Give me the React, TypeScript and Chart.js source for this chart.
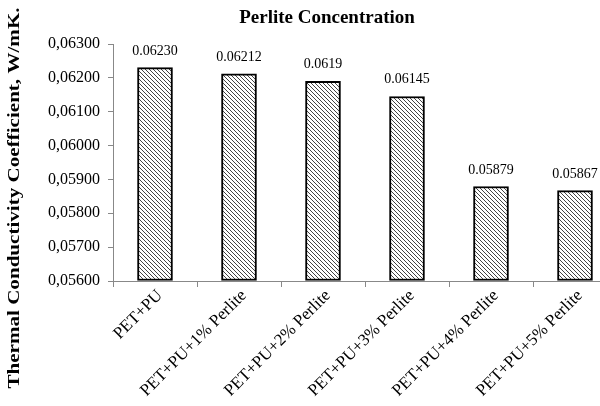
import React, { useEffect, useRef } from "react";
import { Chart, registerables } from "chart.js";

Chart.register(...registerables);

const categories = [
  "PET+PU",
  "PET+PU+1% Perlite",
  "PET+PU+2% Perlite",
  "PET+PU+3% Perlite",
  "PET+PU+4% Perlite",
  "PET+PU+5% Perlite",
];
const values = [0.0623, 0.06212, 0.0619, 0.06145, 0.05879, 0.05867];
const valueLabels = ["0.06230", "0.06212", "0.0619", "0.06145", "0.05879", "0.05867"];
const yMin = 0.056;
const yMax = 0.063;
const yStep = 0.001;
const chartTitle = "Perlite Concentration";
const yTitle = "Thermal Conductivity Coefficient, W/mK.";

const SERIF = "'Liberation Serif', 'Times New Roman', serif";

function makePattern(): CanvasPattern | string {
  const c = document.createElement("canvas");
  const s = 4;
  c.width = s;
  c.height = s;
  const ctx = c.getContext("2d");
  if (!ctx) return "#888";
  ctx.fillStyle = "#ffffff";
  ctx.fillRect(0, 0, s, s);
  ctx.strokeStyle = "#444";
  ctx.lineWidth = 1;
  ctx.beginPath();
  ctx.moveTo(-1, -1);
  ctx.lineTo(s + 1, s + 1);
  ctx.moveTo(-1, s - 1);
  ctx.lineTo(1, s + 1);
  ctx.moveTo(s - 1, -1);
  ctx.lineTo(s + 1, 1);
  ctx.stroke();
  const p = ctx.createPattern(c, "repeat");
  return p || "#888";
}

const decorPlugin = {
  id: "decor",
  afterDraw(chart: any) {
    const ctx = chart.ctx as CanvasRenderingContext2D;
    const area = chart.chartArea;
    const meta = chart.getDatasetMeta(0);
    ctx.save();
    // title
    ctx.fillStyle = "#000";
    ctx.font = `bold 19px ${SERIF}`;
    ctx.textAlign = "center";
    ctx.textBaseline = "middle";
    ctx.fillText(chartTitle, 327, 18);
    // value labels
    ctx.font = `14px ${SERIF}`;
    ctx.textBaseline = "alphabetic";
    meta.data.forEach((bar: any, i: number) => {
      ctx.fillText(valueLabels[i], bar.x, bar.y - 13);
    });
    // x labels rotated
    ctx.font = `17px ${SERIF}`;
    ctx.textAlign = "right";
    ctx.textBaseline = "middle";
    const xs = chart.scales.x;
    categories.forEach((lab, i) => {
      const cx = xs.getPixelForValue(i);
      ctx.save();
      ctx.translate(cx + 5, area.bottom + 12);
      ctx.rotate(-Math.PI / 4);
      ctx.fillText(lab, 0, 0);
      ctx.restore();
    });
    // y title
    ctx.font = `bold 17px ${SERIF}`;
    ctx.textAlign = "center";
    ctx.textBaseline = "middle";
    ctx.save();
    ctx.translate(15, 198);
    ctx.rotate(-Math.PI / 2);
    ctx.scale(1.24, 1);
    ctx.fillText(yTitle, 0, 0);
    ctx.restore();
    ctx.restore();
  },
};

export default function App() {
  const ref = useRef<HTMLCanvasElement | null>(null);
  useEffect(() => {
    if (!ref.current) return;
    const pattern = makePattern();
    const chart = new Chart(ref.current, {
      type: "bar",
      data: {
        labels: categories,
        datasets: [
          {
            data: values,
            base: yMin,
            backgroundColor: pattern as any,
            borderColor: "#000",
            borderWidth: 2,
            borderSkipped: false,
            barThickness: 35,
          } as any,
        ],
      },
      options: {
        animation: false,
        responsive: false,
        events: [],
        layout: { padding: { top: 44, right: 3, left: 0, bottom: 0 } },
        plugins: {
          legend: { display: false },
          title: { display: false },
          tooltip: { enabled: false },
        },
        scales: {
          x: {
            offset: true,
            grid: {
              offset: true,
              drawOnChartArea: false,
              drawTicks: true,
              tickLength: 6,
              color: "#888",
            },
            border: { color: "#888", width: 1 },
            ticks: { display: false },
            afterFit: (s: any) => {
              s.height = 125;
            },
          } as any,
          y: {
            min: yMin,
            max: yMax,
            grid: {
              drawOnChartArea: false,
              drawTicks: true,
              tickLength: 5,
              color: "#888",
            },
            border: { color: "#888", width: 1 },
            ticks: {
              stepSize: yStep,
              padding: 8,
              color: "#000",
              font: { family: SERIF, size: 16 },
              callback: (v: any) => Number(v).toFixed(5).replace(".", ","),
            },
            afterFit: (s: any) => {
              s.width = 113;
            },
          } as any,
        },
      },
      plugins: [decorPlugin],
    });
    return () => chart.destroy();
  }, []);
  return (
    <div
      style={{
        position: "fixed",
        left: 0,
        top: 0,
        width: 600,
        height: 406,
        overflow: "hidden",
        background: "#fff",
      }}
    >
      <canvas ref={ref} width={620} height={406} style={{ display: "block" }} />
    </div>
  );
}
